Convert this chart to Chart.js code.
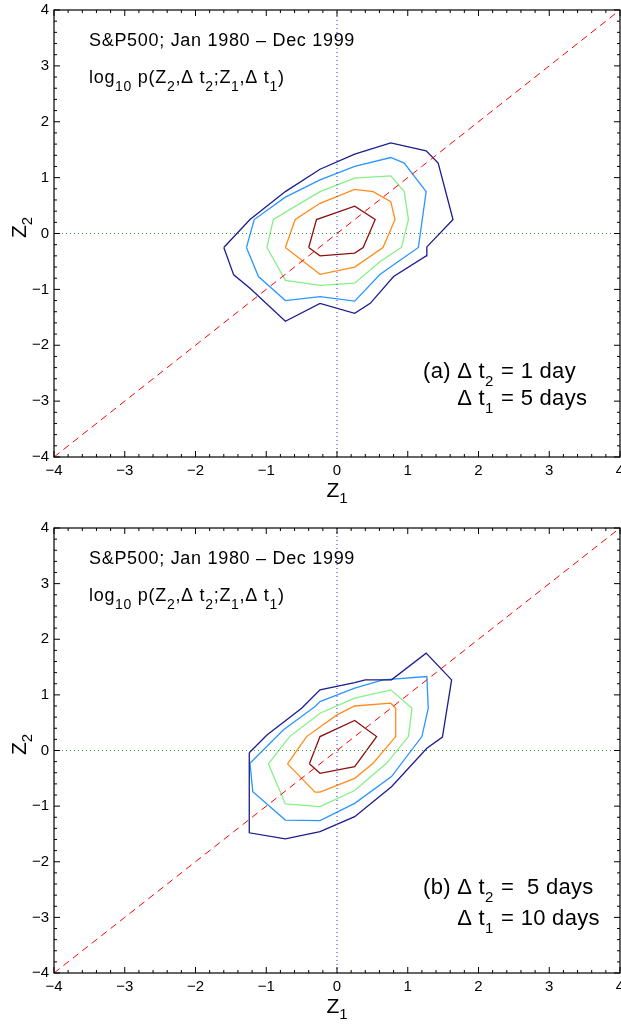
<!DOCTYPE html>
<html>
<head>
<meta charset="utf-8">
<script src="https://cdn.jsdelivr.net/npm/chart.js@4.4.0/dist/chart.umd.min.js"></script>
<style>
  body { margin: 0; background: #fff; width: 621px; height: 1028px; overflow: hidden; }
  canvas { position: absolute; left: 0; }
</style>
</head>
<body>
<canvas id="panelA" width="621" height="518" style="top:0"></canvas>
<canvas id="panelB" width="621" height="510" style="top:518px"></canvas>
<script>
// axis range and tick labels
const axisMin = -4;
const axisMax = 4;
const axisTicks = [-4, -3, -2, -1, 0, 1, 2, 3, 4];

// contour levels, outer to inner, as [Z1, Z2] points
const levelColors = ["#1c1c8e", "#2a96ff", "#85f085", "#ff8c1a", "#8b1010"];

// (a) dt2 = 1 day, dt1 = 5 days
const aLevel1 = [[-1.60, -0.25], [-1.46, -0.74], [-1.23, -0.98], [-0.73, -1.57], [-0.24, -1.25], [0.25, -1.43], [0.47, -1.25], [0.80, -0.77], [1.26, -0.40], [1.27, -0.24], [1.64, 0.25], [1.43, 1.26], [1.26, 1.48], [0.76, 1.62], [0.25, 1.42], [-0.24, 1.15], [-0.73, 0.75], [-1.23, 0.25]];
const aLevel2 = [[-1.28, -0.25], [-1.11, -0.77], [-0.73, -1.20], [-0.24, -1.13], [0.25, -1.21], [0.61, -0.73], [1.15, -0.25], [1.26, 0.75], [0.95, 1.26], [0.76, 1.36], [0.25, 1.20], [-0.24, 0.96], [-0.73, 0.65], [-1.17, 0.25]];
const aLevel3 = [[-0.99, -0.25], [-0.73, -0.84], [-0.24, -0.93], [0.25, -0.89], [0.61, -0.50], [0.91, -0.25], [1.01, 0.25], [0.95, 0.75], [0.76, 1.03], [0.25, 0.99], [-0.24, 0.75], [-0.90, 0.25]];
const aLevel4 = [[-0.73, -0.25], [-0.24, -0.73], [0.25, -0.60], [0.65, -0.25], [0.82, 0.25], [0.76, 0.57], [0.51, 0.75], [0.25, 0.79], [-0.24, 0.54], [-0.59, 0.25]];
const aLevel5 = [[-0.40, -0.25], [-0.24, -0.40], [0.25, -0.35], [0.37, -0.25], [0.54, 0.25], [0.25, 0.49], [-0.29, 0.25]];

// (b) dt2 = 5 days, dt1 = 10 days
const bLevel1 = [[-1.24, -0.04], [-1.24, -1.48], [-0.73, -1.59], [-0.24, -1.46], [0.25, -1.19], [0.77, -0.65], [1.27, 0.04], [1.49, 0.24], [1.62, 1.27], [1.26, 1.75], [0.77, 1.27], [0.40, 1.27], [0.25, 1.22], [-0.24, 1.09], [-0.50, 0.76], [-0.99, 0.28]];
const bLevel2 = [[-1.23, -0.23], [-1.19, -0.74], [-0.73, -1.25], [-0.24, -1.26], [0.25, -0.95], [0.77, -0.47], [1.20, 0.25], [1.29, 0.76], [1.27, 1.33], [0.65, 1.27], [0.25, 1.12], [-0.24, 0.88], [-0.31, 0.79], [-0.76, 0.37]];
const bLevel3 = [[-0.97, -0.24], [-0.73, -0.96], [-0.24, -1.01], [0.25, -0.72], [0.70, -0.23], [1.01, 0.25], [1.06, 0.76], [0.76, 1.09], [0.25, 0.94], [-0.24, 0.67], [-0.67, 0.25]];
const bLevel4 = [[-0.70, -0.24], [-0.31, -0.75], [-0.24, -0.75], [0.25, -0.50], [0.51, -0.23], [0.83, 0.25], [0.83, 0.76], [0.76, 0.85], [0.25, 0.80], [0.00, 0.64], [-0.43, 0.25]];
const bLevel5 = [[-0.39, -0.24], [-0.24, -0.41], [0.25, -0.29], [0.56, 0.25], [0.25, 0.54], [-0.24, 0.25]];

// guide lines
const diagLine = [[-4, -4], [4, 4]];
const zeroH = [[-4, 0], [4, 0]];
const zeroV = [[0, -4], [0, 4]];

const fontFam = '"Liberation Sans", Arial, Helvetica, sans-serif';
Chart.defaults.font.family = fontFam;
Chart.defaults.font.size = 15;
Chart.defaults.color = "#000";

const toXY = pts => pts.map(([x, y]) => ({ x, y }));

const guideSet = (pts, color, dash) => ({
    data: toXY(pts), borderColor: color, borderWidth: 1, borderDash: dash,
    showLine: true, pointRadius: 0, fill: false
});

const contourSet = (pts, color) => ({
    data: toXY(pts.concat([pts[0]])), borderColor: color, borderWidth: 1.3,
    showLine: true, pointRadius: 0, tension: 0, fill: false
});

// text made of [string, isSubscript] parts
function setFont(ctx, t) {
    ctx.font = t.size + "px " + fontFam;
    ctx.letterSpacing = t.spacing + "px";
}
function richWidth(ctx, parts, t) {
    let w = 0;
    parts.forEach(([s, sub]) => {
        setFont(ctx, sub ? { size: t.sub, spacing: t.spacing } : t);
        w += ctx.measureText(s).width + (sub ? t.gap : 0);
    });
    return w;
}
function drawRich(ctx, parts, x, y, t) {
    let cx = x;
    parts.forEach(([s, sub]) => {
        setFont(ctx, sub ? { size: t.sub, spacing: t.spacing } : t);
        ctx.fillText(s, cx, sub ? y + t.drop : y);
        cx += ctx.measureText(s).width + (sub ? t.gap : 0);
    });
}

const headStyle = { size: 18, sub: 14, drop: 8, gap: 0, spacing: 0.7 };
const labelStyle = { size: 22, sub: 15, drop: 8, gap: 1, spacing: 0.3 };
const titleStyle = { size: 21, sub: 15, drop: 6, gap: 0, spacing: 0 };

const framePlugin = {
    id: "frame",
    afterDatasetsDraw(chart, args, opts) {
        const { ctx, chartArea: a, scales: { x, y } } = chart;
        ctx.save();
        ctx.strokeStyle = "#000";
        ctx.lineWidth = 1.2;
        ctx.strokeRect(a.left, a.top, a.right - a.left, a.bottom - a.top);
        // inward ticks on all four sides
        ctx.lineWidth = 1;
        ctx.beginPath();
        for (let i = axisMin * 5; i <= axisMax * 5; i++) {
            const len = i % 5 === 0 ? 6 : 3;
            const px = x.getPixelForValue(i / 5);
            ctx.moveTo(px, a.bottom); ctx.lineTo(px, a.bottom - len);
            ctx.moveTo(px, a.top); ctx.lineTo(px, a.top + len);
            const py = y.getPixelForValue(i / 5);
            ctx.moveTo(a.left, py); ctx.lineTo(a.left + len, py);
            ctx.moveTo(a.right, py); ctx.lineTo(a.right - len, py);
        }
        ctx.stroke();

        ctx.fillStyle = "#000";
        ctx.textBaseline = "alphabetic";
        // header text
        drawRich(ctx, [["S&P500; Jan 1980 \u2013 Dec 1999", 0]], 89, a.top + 36, headStyle);
        drawRich(ctx, [["log", 0], ["10", 1], [" p(Z", 0], ["2", 1], [",\u0394 t", 0], ["2", 1], [";Z", 0], ["1", 1], [",\u0394 t", 0], ["1", 1], [")", 0]], 89, a.top + 73, headStyle);
        // panel label
        const lx = 423;
        drawRich(ctx, opts.line1, lx, a.bottom - 79, labelStyle);
        const indent = richWidth(ctx, [[opts.prefix, 0]], labelStyle);
        drawRich(ctx, opts.line2, lx + indent, a.bottom - opts.line2Up, labelStyle);

        // axis titles
        const xt = [["Z", 0], ["1", 1]];
        drawRich(ctx, xt, (a.left + a.right) / 2 - richWidth(ctx, xt, titleStyle) / 2, a.bottom + opts.titleDown, titleStyle);
        const yt = [["Z", 0], ["2", 1]];
        ctx.translate(26, (a.top + a.bottom) / 2 - 6);
        ctx.rotate(-Math.PI / 2);
        drawRich(ctx, yt, -richWidth(ctx, yt, titleStyle) / 2, 0, titleStyle);
        ctx.restore();
    }
};

function makePanel(id, levels, labelOpts, xHeight) {
    const datasets = [
        guideSet(diagLine, "#ff0000", [7, 5]),
        guideSet(zeroH, "#2e9e2e", [1, 3]),
        guideSet(zeroV, "#3030e0", [1, 3])
    ].concat(levels.map((pts, i) => contourSet(pts, levelColors[i])));

    const tickCallback = v => String(v).replace("-", "\u2212");

    new Chart(document.getElementById(id).getContext("2d"), {
        type: "scatter",
        data: { datasets },
        options: {
            responsive: false,
            animation: false,
            devicePixelRatio: 1,
            layout: { autoPadding: false, padding: { top: 10, right: 1, left: 0, bottom: 0 } },
            plugins: {
                legend: { display: false },
                tooltip: { enabled: false },
                frame: labelOpts
            },
            scales: {
                x: {
                    type: "linear", min: axisMin, max: axisMax,
                    afterBuildTicks: s => { s.ticks = axisTicks.map(v => ({ value: v })); },
                    afterFit: s => { s.height = xHeight; s.paddingLeft = 0; s.paddingRight = 0; },
                    grid: { display: false, drawTicks: false }, border: { display: false },
                    ticks: { padding: 5, maxRotation: 0, font: { size: 15 }, callback: tickCallback }
                },
                y: {
                    type: "linear", min: axisMin, max: axisMax,
                    afterBuildTicks: s => { s.ticks = axisTicks.map(v => ({ value: v })); },
                    afterFit: s => { s.width = 54; s.paddingTop = 0; s.paddingBottom = 0; },
                    grid: { display: false, drawTicks: false }, border: { display: false },
                    ticks: { padding: 5, font: { size: 15 }, callback: tickCallback }
                }
            }
        },
        plugins: [framePlugin]
    });
}

makePanel("panelA", [aLevel1, aLevel2, aLevel3, aLevel4, aLevel5], {
    prefix: "(a) ",
    line1: [["(a) \u0394 t", 0], ["2", 1], [" = 1 day", 0]],
    line2: [["\u0394 t", 0], ["1", 1], [" = 5 days", 0]],
    line2Up: 52,
    titleDown: 40
}, 61);

makePanel("panelB", [bLevel1, bLevel2, bLevel3, bLevel4, bLevel5], {
    prefix: "(b) ",
    line1: [["(b) \u0394 t", 0], ["2", 1], [" =  5 days", 0]],
    line2: [["\u0394 t", 0], ["1", 1], [" = 10 days", 0]],
    line2Up: 48,
    titleDown: 40
}, 55);
</script>
</body>
</html>
